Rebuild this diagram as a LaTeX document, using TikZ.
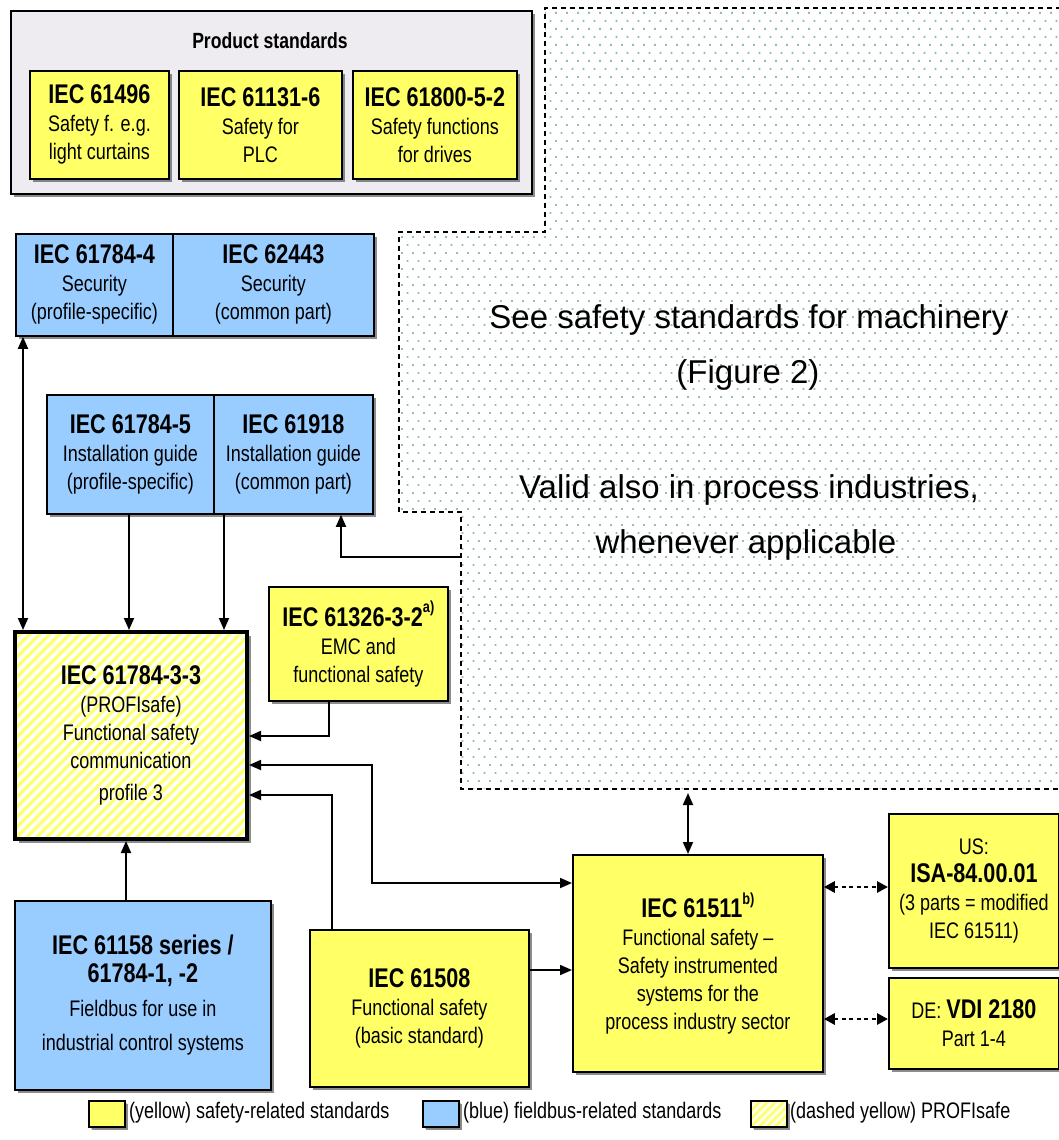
\documentclass[tikz,border=0pt]{standalone}
\usepackage{fontspec}
\setmainfont{Liberation Sans}
\newfontfamily\nar[FakeStretch=0.8]{Liberation Sans}
\usetikzlibrary{arrows.meta,shadows,calc}
\definecolor{ycol}{RGB}{255,255,102}
\definecolor{bcol}{RGB}{153,204,255}
\definecolor{gcol}{RGB}{238,236,241}
\definecolor{dotc}{RGB}{150,185,185}
\definecolor{hatc}{RGB}{255,255,115}
\newcommand{\ttl}[1]{{\fontsize{27}{28}\selectfont\bfseries #1}}
\newcommand{\sups}[1]{\raisebox{0.5em}{\fontsize{16}{16}\selectfont\bfseries #1}}
\tikzset{
  box/.style={draw=black, line width=1.8pt, inner sep=0pt, align=center,
    font=\nar\fontsize{22.5}{28}\selectfont, anchor=north west,
    drop shadow={shadow xshift=3.5pt, shadow yshift=-3.5pt, opacity=0.6, fill=black!75}},
  ybox/.style={box, fill=ycol},
  bbox/.style={box, fill=bcol},
  hatch/.style={path picture={\foreach \i in {-260,-250,...,260}{\draw[hatc, line width=3.5pt] ([xshift=\i pt]path picture bounding box.south west) -- ++(280pt,280pt);}}},
  tip/.tip={Triangle[length=12pt,width=10pt]},
  arr/.style={line width=1.8pt, -tip},
  darr/.style={line width=1.8pt, tip-tip},
  ddarr/.style={line width=2.8pt, dash pattern=on 4pt off 3.5pt, {Triangle[length=11pt,width=11pt]}-{Triangle[length=11pt,width=11pt]}},
  bigtxt/.style={font=\fontsize{33}{40}\selectfont, inner sep=0pt},
  legtxt/.style={font=\nar\fontsize{22.5}{26}\selectfont, inner sep=0pt, anchor=west},
}
\begin{document}
\begin{tikzpicture}[x=1pt,y=-1pt]
\useasboundingbox (0,0) rectangle (1059,1140);
\fill[white] (0,0) rectangle (1059,1140);

% dotted region
\begin{scope}
\clip (1070,8) -- (545,8) -- (545,232) -- (399,232) -- (399,512) -- (461,512) -- (461,789) -- (1070,789) -- cycle;
\fill[dotc] \foreach \r [evaluate=\r as \off using {mod(\r,2)*5.5}] in {0,...,97} { \foreach \c in {0,...,61} { ({401+\off+\c*11},{12+\r*8}) rectangle ++(1.8,1.8) } };
\end{scope}
\draw[line width=2.6pt, dash pattern=on 5pt off 4pt] (1070,8) -- (545,8) -- (545,232) -- (399,232) -- (399,512) -- (461,512) -- (461,789) -- (1070,789);

\node[bigtxt] (t1) at (749,320) {See safety standards for machinery};
\node[bigtxt] (t2) at (748,375) {(Figure 2)};
\node[bigtxt] (t3) at (749,490) {Valid also in process industries,};
\node[bigtxt] (t4) at (746,545) {whenever applicable};

% product standards
\node[box, fill=gcol, minimum width=521pt, minimum height=183pt] (prod) at (10,10) {};
\node[font=\nar\fontsize{22}{26}\selectfont\bfseries, inner sep=0pt] (ptitle) at (270,41) {Product standards};
\node[ybox, minimum width=139pt, minimum height=108pt] (p1) at (29,70) {\ttl{IEC 61496}\\Safety f. e.g.\\light curtains};
\node[ybox, minimum width=163pt, minimum height=108pt] (p2) at (178,70) {\ttl{IEC 61131-6}\\Safety for\\PLC};
\node[ybox, minimum width=164pt, minimum height=108pt] (p3) at (352,70) {\ttl{IEC 61800-5-2}\\Safety functions\\for drives};

% security
\node[bbox, minimum width=157pt, minimum height=102pt] (sec1) at (15,233) {\ttl{IEC 61784-4}\\Security\\(profile-specific)};
\node[bbox, minimum width=201pt, minimum height=102pt] (sec2) at (172,233) {\ttl{IEC 62443}\\Security\\(common part)};

% installation
\node[bbox, minimum width=167pt, minimum height=119pt] (inst1) at (46,394) {\ttl{IEC 61784-5}\\Installation guide\\(profile-specific)};
\node[bbox, minimum width=159pt, minimum height=119pt] (inst2) at (213,394) {\ttl{IEC 61918}\\Installation guide\\(common part)};

% EMC
\node[ybox, minimum width=179pt, minimum height=114pt] (emc) at (268,586) {\ttl{IEC 61326-3-2\sups{a)}}\\EMC and\\functional safety};

% PROFIsafe
\node[box, fill=white, hatch, line width=4pt, minimum width=232pt, minimum height=207pt] (fs) at (13,630) {\ttl{IEC 61784-3-3}\\(PROFIsafe)\\Functional safety\\communication\\[4pt]profile 3};

% fieldbus
\node[bbox, minimum width=256pt, minimum height=189pt] (fb) at (14,900) {\ttl{IEC 61158 series /}\\\ttl{61784-1, -2}\\[6pt]Fieldbus for use in\\[6pt]industrial control systems};

% 61508
\node[ybox, minimum width=219pt, minimum height=157pt] (bs) at (309,929) {\ttl{IEC 61508}\\Functional safety\\(basic standard)};

% 61511
\node[ybox, minimum width=250pt, minimum height=217pt] (sis) at (572,854) {\ttl{IEC 61511\sups{b)}}\\Functional safety –\\Safety instrumented\\systems for the\\process industry sector};

% ISA / VDI
\node[ybox, minimum width=170pt, minimum height=154pt] (isa) at (888,813) {US:\\\ttl{ISA-84.00.01}\\(3 parts = modified\\IEC 61511)};
\node[ybox, minimum width=170pt, minimum height=91pt] (vdi) at (888,977) {DE: \ttl{VDI 2180}\\Part 1-4};

% connectors
\coordinate (cA) at (23,0);
\draw[darr] (sec1.south -| cA) -- (fs.north -| cA);
\coordinate (cB) at (129,0);
\draw[arr] (inst1.south -| cB) -- (fs.north -| cB);
\coordinate (cC) at (224,0);
\draw[arr] (inst2.south -| cC) -- (fs.north -| cC);
\coordinate (dz) at (461,557);
\coordinate (cD) at (341,0);
\draw[arr] (dz) -| (inst2.south -| cD);
\coordinate (cE) at (329,736);
\draw[arr] (emc.south -| cE) |- (fs.east |- cE);
\coordinate (cF) at (372,765);
\coordinate (cG) at (372,883);
\draw[darr] (fs.east |- cF) -- (cF) -- (cG) -- (sis.west |- cG);
\coordinate (cH) at (332,795);
\draw[arr] (bs.north -| cH) |- (fs.east |- cH);
\coordinate (cI) at (126,0);
\draw[arr] (fb.north -| cI) -- (fs.south -| cI);
\coordinate (cJ) at (0,970);
\draw[arr] (bs.east |- cJ) -- (sis.west |- cJ);
\coordinate (dz2) at (688,793);
\draw[darr] (dz2) -- (sis.north -| dz2);
\coordinate (cK) at (0,887);
\draw[ddarr] (sis.east |- cK) -- (isa.west |- cK);
\coordinate (cL) at (0,1019);
\draw[ddarr] (sis.east |- cL) -- (vdi.west |- cL);

% legend
\node[ybox, minimum width=36pt, minimum height=26pt, drop shadow={shadow xshift=2pt, shadow yshift=-2pt}] (ly) at (88,1100) {};
\node[legtxt] (lyt) at (129,1113) {(yellow) safety-related standards};
\node[bbox, minimum width=36pt, minimum height=26pt, drop shadow={shadow xshift=2pt, shadow yshift=-2pt}] (lb) at (422,1100) {};
\node[legtxt] (lbt) at (463,1113) {(blue) fieldbus-related standards};
\node[box, fill=white, path picture={\foreach \i in {-40,-32,...,40}{\draw[hatc, line width=3pt] ([xshift=\i pt]path picture bounding box.south west) -- ++(50pt,50pt);}}, minimum width=36pt, minimum height=26pt, drop shadow={shadow xshift=2pt, shadow yshift=-2pt}] (lh) at (750,1100) {};
\node[legtxt] (lht) at (790,1113) {(dashed yellow) PROFIsafe};
\end{tikzpicture}
\end{document}
